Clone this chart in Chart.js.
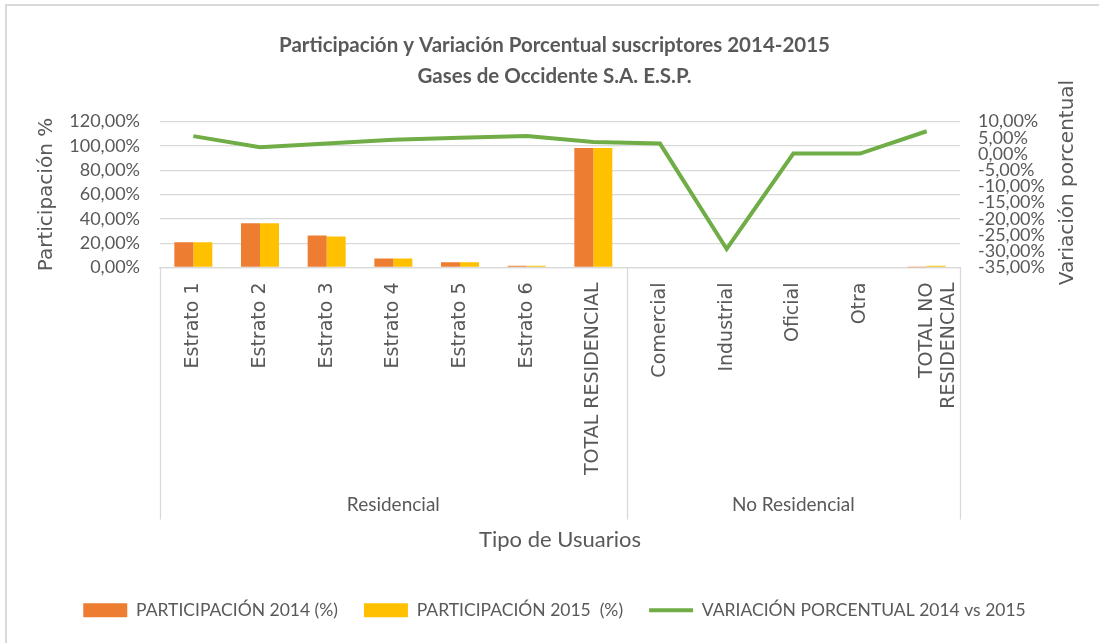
<!DOCTYPE html>
<html>
<head>
<meta charset="utf-8">
<script src="https://cdn.jsdelivr.net/npm/chart.js@4.4.1/dist/chart.umd.min.js"></script>
<style>
  html, body { margin: 0; padding: 0; background: #fff; }
  #wrap { width: 1099px; height: 643px; }
</style>
</head>
<body>
<div id="wrap"><canvas id="chart"></canvas></div>
<script>
// categories (level 1) and their groups (level 2)
const categories = ['Estrato 1', 'Estrato 2', 'Estrato 3', 'Estrato 4', 'Estrato 5', 'Estrato 6',
  'TOTAL RESIDENCIAL', 'Comercial', 'Industrial', 'Oficial', 'Otra', ['TOTAL NO', 'RESIDENCIAL']];
const groups = [
  { label: 'Residencial', from: 0, to: 6 },
  { label: 'No Residencial', from: 7, to: 11 }
];

// series values
const part2014 = [20.7, 36.3, 26.2, 7.4, 4.4, 1.4, 98.2, 0, 0, 0, 0, 0.1];
const part2015 = [20.7, 36.3, 25.4, 7.4, 4.4, 1.4, 98.2, 0, 0, 0, 0, 1.5];
const variacion = [5.5, 2.1, 3.2, 4.4, 5.0, 5.5, 3.7, 3.2, -29.3, 0.1, 0.1, 7.0];

// axis ranges
const leftMin = 0, leftMax = 120, leftStep = 20;
const rightMin = -35, rightMax = 10, rightStep = 5;

const GRAY = '#595959';
const GRID = '#D9D9D9';

const fmtPct = v => v.toFixed(2).replace('.', ',') + '%';

// draws the grouped second level of the category axis, its separators, the frame and right title
const extras = {
  id: 'extras',
  beforeDraw(chart) {
    const ctx = chart.ctx;
    ctx.save();
    ctx.strokeStyle = GRID;
    ctx.lineWidth = 2;
    ctx.beginPath();
    ctx.moveTo(6, chart.height);
    ctx.lineTo(6, 5);
    ctx.lineTo(chart.width, 5);
    ctx.stroke();
    ctx.restore();
  },
  afterDraw(chart) {
    const ctx = chart.ctx;
    const x = chart.scales.x;
    const area = chart.chartArea;
    const lineBottom = x.bottom - 56;
    const labelY = x.bottom - 71;

    const edges = [area.left];
    groups.forEach((g, i) => {
      if (i < groups.length - 1) {
        edges.push((x.getPixelForValue(g.to) + x.getPixelForValue(groups[i + 1].from)) / 2);
      }
    });
    edges.push(area.right);

    ctx.save();
    ctx.strokeStyle = GRID;
    ctx.lineWidth = 1.3;
    edges.forEach(e => {
      ctx.beginPath();
      ctx.moveTo(Math.round(e) + 0.5, area.bottom);
      ctx.lineTo(Math.round(e) + 0.5, lineBottom);
      ctx.stroke();
    });

    ctx.fillStyle = GRAY;
    ctx.font = '19px Lato';
    ctx.textAlign = 'center';
    ctx.textBaseline = 'middle';
    groups.forEach((g, i) => {
      ctx.fillText(g.label, (edges[i] + edges[i + 1]) / 2, labelY);
    });

    // right axis title reads bottom-to-top like the left one
    ctx.save();
    ctx.translate(1068, (area.top + area.bottom) / 2 - 12);
    ctx.rotate(-Math.PI / 2);
    ctx.font = '20px "DejaVu Sans"';
    ctx.fillText('Variación porcentual', 0, 0);
    ctx.restore();
    ctx.restore();
  }
};

new Chart(document.getElementById('chart'), {
  data: {
    labels: categories,
    datasets: [
      {
        type: 'bar',
        label: 'PARTICIPACIÓN 2014 (%)',
        data: part2014,
        yAxisID: 'y',
        backgroundColor: '#ED7D31',
        pointStyle: 'rect',
        categoryPercentage: 0.57,
        barPercentage: 1,
        order: 1
      },
      {
        type: 'bar',
        label: 'PARTICIPACIÓN 2015  (%)',
        data: part2015,
        yAxisID: 'y',
        backgroundColor: '#FFC000',
        pointStyle: 'rect',
        categoryPercentage: 0.57,
        barPercentage: 1,
        order: 1
      },
      {
        type: 'line',
        label: 'VARIACIÓN PORCENTUAL 2014 vs 2015',
        data: variacion,
        yAxisID: 'y1',
        borderColor: '#70AD47',
        backgroundColor: '#70AD47',
        borderWidth: 4,
        pointRadius: 0,
        pointStyle: 'line',
        tension: 0,
        order: 0
      }
    ]
  },
  options: {
    responsive: true,
    maintainAspectRatio: false,
    animation: false,
    layout: { padding: { left: 10, right: 0, top: 0, bottom: 14 } },
    plugins: {
      title: {
        display: true,
        text: ['Participación y Variación Porcentual suscriptores 2014-2015', 'Gases de Occidente S.A. E.S.P.'],
        color: GRAY,
        font: { family: 'Lato', size: 20.5, weight: 'bold', lineHeight: 1.5 },
        padding: { top: 30, bottom: 30 }
      },
      legend: {
        display: true,
        position: 'bottom',
        labels: {
          usePointStyle: true,
          pointStyleWidth: 44,
          boxHeight: 14,
          padding: 26,
          color: GRAY,
          font: { family: 'Lato', size: 17.5 },
          sort: (a, b) => a.datasetIndex - b.datasetIndex
        }
      },
      tooltip: { enabled: false }
    },
    scales: {
      x: {
        grid: { display: false, drawTicks: false },
        border: { display: true, color: GRID, width: 1.3 },
        ticks: {
          autoSkip: false,
          minRotation: 90,
          maxRotation: 90,
          padding: 15,
          color: GRAY,
          font: { family: 'DejaVu Sans', size: 19 }
        },
        title: {
          display: true,
          text: 'Tipo de Usuarios',
          color: GRAY,
          font: { family: 'Lato', size: 22 },
          padding: { top: 0, bottom: 22 }
        },
        afterFit(scale) { scale.height = 308; }
      },
      y: {
        position: 'left',
        min: leftMin,
        max: leftMax,
        grid: { color: GRID, lineWidth: 1.3, drawTicks: false },
        border: { display: false },
        ticks: {
          stepSize: leftStep,
          autoSkip: false,
          padding: 20,
          color: GRAY,
          font: { family: 'Lato', size: 18 },
          callback: v => fmtPct(v)
        },
        title: {
          display: true,
          text: 'Participación %',
          color: GRAY,
          font: { family: 'DejaVu Sans', size: 20 },
          padding: { top: 25, bottom: 0 }
        },
        afterFit(scale) { scale.width = 150; }
      },
      y1: {
        position: 'right',
        min: rightMin,
        max: rightMax,
        grid: { display: false, drawTicks: false },
        border: { display: false },
        ticks: {
          stepSize: rightStep,
          autoSkip: false,
          padding: 18,
          color: GRAY,
          font: { family: 'Lato', size: 18 },
          callback: v => fmtPct(v)
        },
        afterFit(scale) { scale.width = 139; }
      }
    }
  },
  plugins: [extras]
});
</script>
</body>
</html>
